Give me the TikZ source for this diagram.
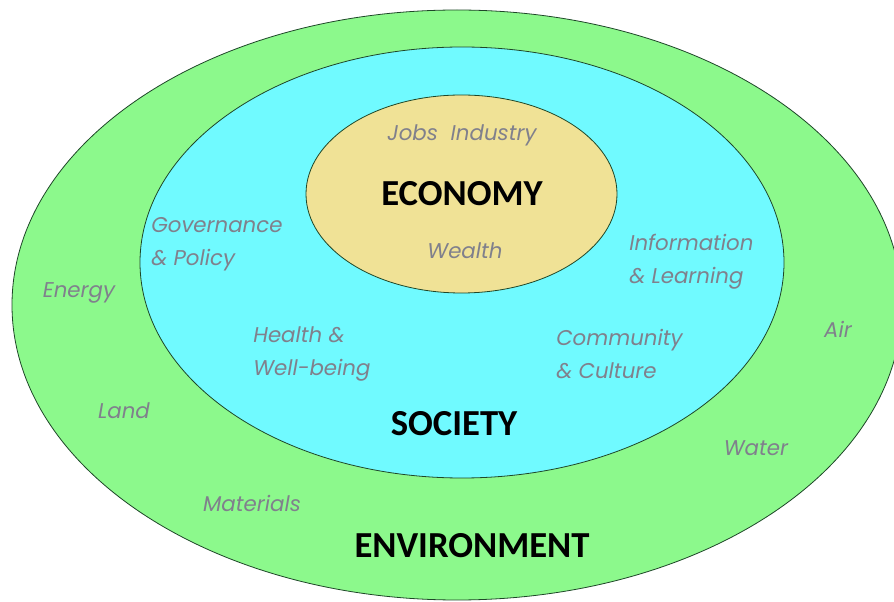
\documentclass[tikz,border=0pt]{standalone}
\usepackage{fontspec}
\setmainfont{Carlito}
\newfontfamily\tagfont{Poppins}
\usepackage{tikz}
\definecolor{envgreen}{RGB}{140,249,140}
\definecolor{socblue}{RGB}{112,250,255}
\definecolor{ecotan}{RGB}{240,226,150}
\definecolor{tagcol}{RGB}{128,128,140}
\definecolor{rimcol}{RGB}{30,70,40}
\tikzset{
  ring/.style={draw=rimcol, line width=0.6pt},
  bigtag/.style={font=\fontsize{27.5}{30}\selectfont\bfseries, text=black},
  smalltag/.style={font=\tagfont\itshape\fontsize{16}{25}\selectfont, text=tagcol, align=left, inner sep=0pt},
}

\begin{document}
\begin{tikzpicture}[x=0.75pt, y=-0.75pt]
			%%%%% START %%%%%
			\useasboundingbox (0, 0) rectangle (894, 602);
			\clip (0, 0) rectangle (894, 602);
			
			\draw[ring, fill=envgreen] (457, 305) ellipse [x radius=445, y radius=295];
			\draw[ring, fill=socblue] (462, 262.5) ellipse [x radius=322, y radius=215.5];
			\draw[ring, fill=ecotan] (461.5, 194) ellipse [x radius=155.5, y radius=99];
			
			\node[bigtag] (economy) at (462, 194) {ECONOMY};
			\node[bigtag] (society) at (454, 424) {SOCIETY};
			\node[bigtag] (environment) at (472, 546) {ENVIRONMENT};
			
			\node[smalltag] (jobs) at (462, 135) {Jobs\ \ Industry};
			\node[smalltag] (wealth) at (465, 251) {Wealth};
			
			\node[smalltag, anchor=west] (governance) at (151, 244) {Governance\\\& Policy};
			\node[smalltag, anchor=west] (information) at (629, 262) {Information\\\& Learning};
			\node[smalltag, anchor=west] (health) at (253, 354) {Health \&\\Well-being};
			\node[smalltag, anchor=west] (community) at (556, 354) {Community\\\& Culture};
			
			\node[smalltag] (energy) at (79, 293) {Energy};
			\node[smalltag] (land) at (124, 411) {Land};
			\node[smalltag] (materials) at (252, 503) {Materials};
			\node[smalltag] (air) at (838, 329) {Air};
			\node[smalltag] (water) at (756, 448) {Water};
			%%%%% END %%%%%
\end{tikzpicture}
\end{document}
